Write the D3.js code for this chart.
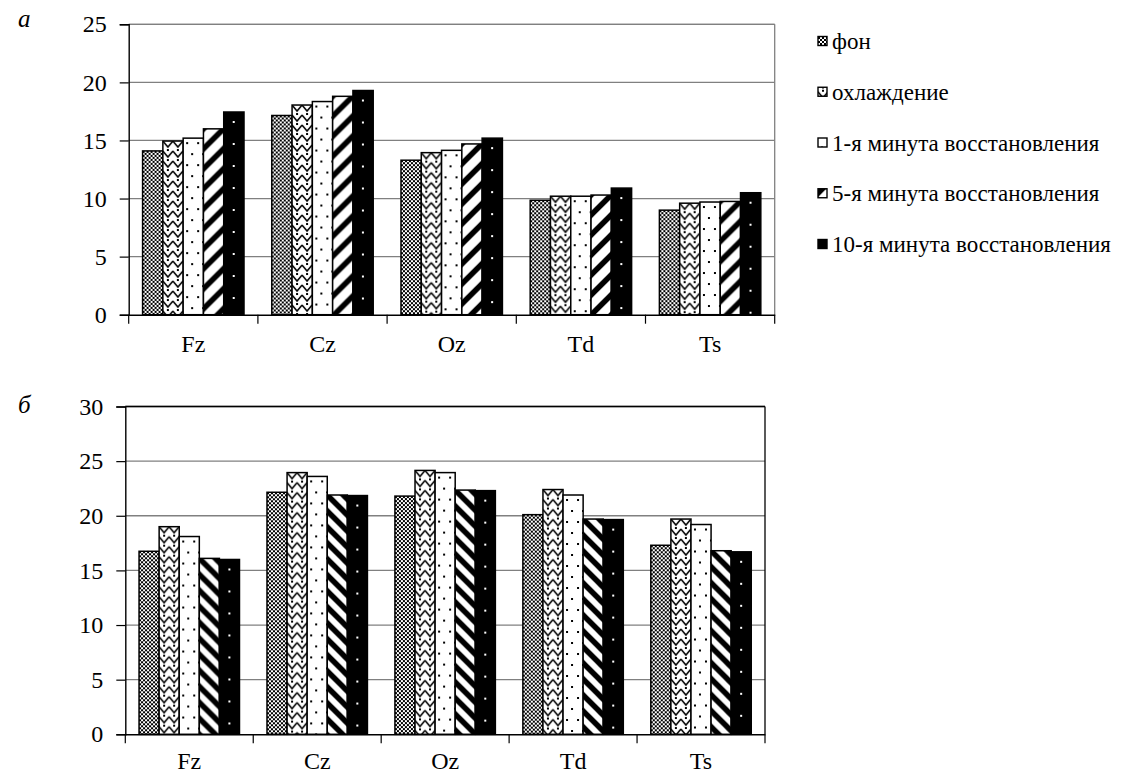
<!DOCTYPE html>
<html><head><meta charset="utf-8">
<script src="https://cdn.jsdelivr.net/npm/d3@7"></script>
<style>
html,body{margin:0;padding:0;background:#fff;}
svg{display:block;font-family:"Liberation Serif","Times New Roman",serif;}
</style></head>
<body>
<svg id="chart" width="1128" height="776"></svg>
<script>
const categories = ["Fz","Cz","Oz","Td","Ts"];
const seriesNames = ["фон","охлаждение","1-я минута восстановления","5-я минута восстановления","10-я минута восстановления"];
// panel а
const a_fon   = [14.1, 17.15, 13.3, 9.85, 9.0];
const a_cool  = [14.95, 18.05, 13.95, 10.2, 9.6];
const a_min1  = [15.2, 18.35, 14.15, 10.2, 9.7];
const a_min5  = [16.0, 18.8, 14.7, 10.3, 9.75];
const a_min10 = [17.45, 19.3, 15.2, 10.9, 10.5];
// panel б
const b_fon   = [16.75, 22.15, 21.8, 20.1, 17.3];
const b_cool  = [19.0, 23.95, 24.15, 22.4, 19.7];
const b_min1  = [18.1, 23.6, 23.95, 21.9, 19.2];
const b_min5  = [16.1, 21.9, 22.35, 19.7, 16.8];
const b_min10 = [16.0, 21.85, 22.3, 19.65, 16.7];
const aTicks = [0,5,10,15,20,25];
const bTicks = [0,5,10,15,20,25,30];

const svg = d3.select("#chart");
const defs = svg.append("defs");

function pat(id, w, h, build){
  const p = defs.append("pattern").attr("id", id).attr("patternUnits","userSpaceOnUse")
    .attr("width", w).attr("height", h);
  build(p);
}
pat("p-check", 4, 4, p => {
  p.append("rect").attr("width",4).attr("height",4).attr("fill","#fff");
  p.append("rect").attr("width",2).attr("height",2).attr("fill","#000");
  p.append("rect").attr("x",2).attr("y",2).attr("width",2).attr("height",2).attr("fill","#000");
});
pat("p-zig", 10, 10, p => {
  p.append("rect").attr("width",10).attr("height",10).attr("fill","#fff");
  p.append("path").attr("d","M0,0 L5,6 L10,0 M0,10 L1,11 M10,10 L9,11").attr("fill","none")
    .attr("stroke","#000").attr("stroke-width",1.5);
  p.append("rect").attr("x",4).attr("y",8).attr("width",2).attr("height",2).attr("fill","#000");
});
pat("p-dots", 11, 22, p => {
  p.append("rect").attr("width",11).attr("height",22).attr("fill","#fff");
  p.append("rect").attr("x",3).attr("y",4).attr("width",2).attr("height",2).attr("fill","#000");
  p.append("rect").attr("x",8).attr("y",15).attr("width",2).attr("height",2).attr("fill","#000");
});
pat("p-stripeA", 20, 20, p => {
  p.append("rect").attr("width",20).attr("height",20).attr("fill","#fff");
  p.append("path").attr("d","M-5,5 L5,-5 M0,20 L20,0 M15,25 L25,15")
    .attr("stroke","#000").attr("stroke-width",5.5);
});
pat("p-stripeB", 16, 16, p => {
  p.append("rect").attr("width",16).attr("height",16).attr("fill","#fff");
  p.append("path").attr("d","M0,0 L16,16 M-4,12 L4,20 M12,-4 L20,4")
    .attr("stroke","#000").attr("stroke-width",5.5);
});
pat("p-black", 20, 22, p => {
  p.append("rect").attr("width",20).attr("height",22).attr("fill","#000");
  p.append("rect").attr("x",9).attr("y",9).attr("width",2).attr("height",2).attr("fill","#fff");
});

function panel(cfg){
  const {x0,x1,yTop,yBot,max,ticks,series,fills,frameColor,label,labelY,xPad} = cfg;
  const g = svg.append("g");
  const x = d3.scaleBand().domain(categories).range([x0,x1]).paddingInner(0).paddingOuter(0);
  const y = d3.scaleLinear().domain([0,max]).range([yBot,yTop]);
  const groupW = x.bandwidth()*0.785;
  const xs = d3.scaleBand().domain(d3.range(series.length))
    .range([(x.bandwidth()-groupW)/2, (x.bandwidth()+groupW)/2]).padding(0);

  g.append("g").selectAll("line").data(ticks.filter(t=>t>0)).join("line")
    .attr("x1",x0).attr("x2",x1).attr("y1",d=>y(d)).attr("y2",d=>y(d))
    .attr("stroke","#808080").attr("stroke-width",1.3);
  g.append("line").attr("x1",x0).attr("x2",x1).attr("y1",yTop).attr("y2",yTop)
    .attr("stroke",frameColor).attr("stroke-width",1.3);
  g.append("line").attr("x1",x1).attr("x2",x1).attr("y1",yTop).attr("y2",yBot)
    .attr("stroke",frameColor).attr("stroke-width",1.3);

  series.forEach((vals, si) => {
    const bg = g.append("g");
    bg.selectAll("g").data(vals).join("g")
      .attr("transform",(d,i)=>`translate(${x(categories[i])+xs(si)},${y(d)})`)
      .append("rect")
      .attr("x",0).attr("y",0)
      .attr("width",xs.bandwidth())
      .attr("height",d=>yBot-y(d))
      .attr("fill",`url(#${fills[si]})`)
      .attr("stroke","#000").attr("stroke-width",1.5);
  });

  const ya = d3.axisLeft(y).tickValues(ticks).tickSize(9).tickPadding(13).tickFormat(d3.format("d"));
  const yg = g.append("g").attr("transform",`translate(${x0},0)`).call(ya);
  yg.attr("font-family","Liberation Serif");
  yg.select(".domain").attr("stroke","#000").attr("stroke-width",1.4);
  yg.selectAll(".tick line").attr("stroke","#000").attr("stroke-width",1.2);
  yg.selectAll(".tick text").attr("font-size",24).attr("font-family","Liberation Serif").attr("fill","#000");

  const xa = d3.axisBottom(x).tickSize(0).tickPadding(xPad);
  const xg = g.append("g").attr("transform",`translate(0,${yBot})`).call(xa);
  xg.attr("font-family","Liberation Serif");
  xg.select(".domain").attr("stroke","#000").attr("stroke-width",1.4);
  xg.selectAll(".tick text").attr("font-size",24).attr("font-family","Liberation Serif").attr("fill","#000");
  const bounds = categories.map(c=>x(c)).concat([x1]);
  xg.append("g").selectAll("line").data(bounds).join("line")
    .attr("x1",d=>d).attr("x2",d=>d).attr("y1",0).attr("y2",9)
    .attr("stroke","#000").attr("stroke-width",1.2);

  svg.append("text").attr("x",cfg.labelX).attr("y",labelY).text(label)
    .attr("font-size",25).attr("font-style","italic").attr("font-family","Liberation Serif");
}

panel({x0:128.7, x1:774.7, yTop:24.3, yBot:314.7, max:25, ticks:aTicks,
  series:[a_fon,a_cool,a_min1,a_min5,a_min10],
  fills:["p-check","p-zig","p-dots","p-stripeA","p-black"],
  frameColor:"#808080", label:"а", labelX:18, labelY:27, xPad:20});
panel({x0:125.3, x1:765, yTop:406.5, yBot:734.3, max:30, ticks:bTicks,
  series:[b_fon,b_cool,b_min1,b_min5,b_min10],
  fills:["p-check","p-zig","p-dots","p-stripeB","p-black"],
  frameColor:"#000", label:"б", labelX:18, labelY:413, xPad:18});

const legendY = d3.scalePoint().domain(seriesNames).range([41,244]);
const legFills = ["p-check","p-zig","p-dots","p-stripeA","p-black"];
const lg = svg.append("g");
const items = lg.selectAll("g").data(seriesNames).join("g")
  .attr("transform",d=>`translate(818,${legendY(d)})`);
items.append("rect").attr("x",0).attr("y",-4.5).attr("width",9).attr("height",9)
  .attr("fill",(d,i)=>`url(#${legFills[i]})`).attr("stroke","#000").attr("stroke-width",1.4);
items.append("text").attr("x",14).attr("y",0).attr("dy","0.35em").text(d=>d)
  .attr("font-size",23).attr("font-family","Liberation Serif").attr("fill","#000");
</script>
</body></html>
